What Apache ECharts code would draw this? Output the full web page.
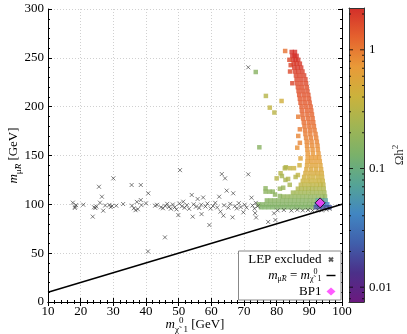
<!DOCTYPE html>
<html>
<head>
<meta charset="utf-8">
<script src="https://cdn.jsdelivr.net/npm/echarts@6/dist/echarts.min.js"></script>
<style>
  html, body { margin: 0; padding: 0; background: #fff; }
  #main { width: 407px; height: 334px; }
</style>
</head>
<body>
<div id="main"></div>
<script>
// LEP excluded points: [m_chi (GeV), m_muR (GeV)]
const lepPoints = [
  [17.6,101.7],[18.3,97.6],[18.6,99.2],[18.2,96.3],[20.8,99.6],[23.7,87.4],[24.1,97],[24.5,96.2],[24.8,97.8],
  [25.6,118],[26.5,107.8],[25.9,101.7],[26.9,93.5],[27.5,98.8],[28.8,99.4],[29.2,97.2],[29.6,98.2],[30,126.6],
  [30.9,98.6],[33,100.3],[35.6,119.8],[35.7,98.6],[36.3,96],[36.8,94],[37.2,102.5],[37.5,95],[38.4,104.4],
  [38.4,119.8],[38.6,99.2],[40,101],[40.7,111.3],[40.6,51.8],[42.8,98.6],[43.4,99.5],[44.6,97],[45.2,96],
  [45.8,66.2],[45.9,98.4],[46.5,100.5],[47,97.3],[47.6,95.5],[48.2,99.8],[48.8,97],[49.3,94.8],[49.9,89],
  [50.4,135],[50.2,100.8],[51,98],[51.4,102.7],[51.8,96.5],[52.5,99.2],[53.2,95.4],[54,109.6],[54.3,87.4],
  [54.6,100],[55.3,97.6],[55.8,105.5],[56.3,96.2],[56.9,99.6],[57,90],[57.5,107],[58.2,97.8],[58.8,100.8],
  [59.4,78.8],[59.8,95.8],[60.5,98.2],[61.2,101.5],[61.8,96.8],[62.4,107.8],[62.8,92.5],[63.2,131],[63.7,88.4],
  [63.9,99],[64.2,126.6],[64.7,114],[65.2,96.6],[65.8,100.5],[66.5,86.7],[66.7,111.3],[67.2,98],[67.8,95.8],
  [68.4,101.2],[69,97.2],[69.8,91.8],[70.2,99.6],[70.8,96.6],[71.3,130.7],[71.3,240.3],[72.3,106.8],[72.6,98.8],
  [73.2,95.6],[73.4,91],[73.7,86.5],[73.6,101.5],[74.2,98],[77.4,82],[79.2,90.8],[79.6,84],[80.3,93.8],
  [82.2,94.2],[84.5,93.6],[86.3,94.4],[88,93.8],[89.6,94.2],[91,93.6],[92.5,94.4],[93.8,93.8],[95.2,94.6],[96.2,95.4]
];

// dense scan region, one row per m_muR: [m_muR, omega h^2, [m_chi values]]
const scanRows = [
  [256, 2.2, [84.6, 85.6]],
  [252, 2.2, [84.8, 85.5, 86.1]],
  [248, 2.1, [85.0, 85.8, 86.6]],
  [244, 2.0, [85.2, 86.1, 87.1]],
  [240, 2.0, [85.4, 86.4, 87.5]],
  [236, 1.9, [85.6, 86.7, 87.9]],
  [232, 1.8, [85.9, 87.1, 88.4]],
  [228, 1.75, [86.1, 87.4, 88.8]],
  [224, 1.7, [86.3, 87.6, 89.0]],
  [220, 1.6, [86.5, 87.8, 89.2]],
  [216, 1.55, [86.7, 88.0, 89.4]],
  [212, 1.5, [86.9, 88.3, 89.7]],
  [208, 1.45, [87.1, 88.5, 89.9]],
  [204, 1.4, [87.3, 88.7, 90.1]],
  [200, 1.35, [87.6, 89.0, 90.4]],
  [196, 1.3, [87.7, 89.2, 90.6]],
  [192, 1.25, [87.9, 89.4, 90.8]],
  [188, 1.2, [88.1, 89.6, 91.0]],
  [184, 1.15, [88.3, 89.8, 91.2]],
  [180, 1.1, [88.5, 90.0, 91.4]],
  [176, 1.05, [88.7, 90.2, 91.6]],
  [172, 1.0, [88.8, 90.3, 91.9]],
  [168, 0.95, [89.0, 90.5, 92.1]],
  [164, 0.9, [89.2, 90.7, 92.3]],
  [160, 0.85, [89.3, 90.9, 92.5]],
  [156, 0.8, [89.4, 91.0, 92.6]],
  [152, 0.75, [89.5, 91.1, 92.8]],
  [148, 0.7, [89.5, 90.7, 91.9, 93.0]],
  [144, 0.65, [89.4, 90.6, 91.9, 93.2]],
  [140, 0.6, [89.3, 90.7, 92.0, 93.4]],
  [136, 0.55, [89.1, 90.6, 92.1, 93.6]],
  [132, 0.5, [88.8, 90.1, 91.4, 92.6, 93.8]],
  [128, 0.45, [88.4, 89.8, 91.2, 92.6, 93.9]],
  [124, 0.4, [88.0, 89.3, 90.5, 91.8, 93.0, 94.1]],
  [120, 0.34, [87.4, 88.6, 89.9, 91.1, 92.3, 93.4, 94.3]],
  [116, 0.28, [86.5, 87.6, 88.7, 89.8, 90.9, 92.0, 93.2, 94.4]],
  [112, 0.23, [85.0, 86.2, 87.4, 88.6, 89.8, 91.0, 92.2, 93.4, 94.6]],
  [108, 0.19, [82.0, 83.2, 84.4, 85.6, 86.8, 88.0, 89.2, 90.4, 91.6, 92.8, 94.0, 94.8]],
  [104, 0.16, [77.0, 78.2, 79.4, 80.6, 81.8, 83.0, 84.2, 85.4, 86.6, 87.8, 89.0, 90.2, 91.4]],
  [104, 0.07, [92.6, 93.8, 95.0]],
  [100, 0.15, [74.5, 75.7, 76.9, 78.1, 79.3, 80.5, 81.7, 82.9, 84.1, 85.3, 86.5, 87.7, 88.9, 90.1, 91.2]],
  [100, 0.04, [92.3, 93.4, 94.5, 95.5]],
  [97, 0.14, [75.2, 76.4, 77.6, 78.8, 80.0, 81.2, 82.4, 83.6, 84.8, 86.0, 87.2, 88.4, 89.6, 90.8]],
  [97, 0.02, [92.0, 93.1, 94.2, 95.3, 96.2]]
];

// isolated scan points: [m_chi, m_muR, omega h^2]
const scanExtra = [
  [73.6,235.5,0.16],[76.7,211,0.3],[77.9,199,0.35],[79.3,194,0.32],[81.5,205.8,0.45],[74.7,158.4,0.16],
  [82.6,257,1.1],[83.9,248,1.7],[84.3,242.5,1.8],[84.1,236,1.7],[84.8,224,1.8],
  [86.6,189.7,1.0],[87.1,176.8,1.0],[86.6,170,0.9],[87.1,163,0.9],[86.3,158,0.8],[87.3,147,0.6],
  [80,126.6,0.3],[81.2,131.8,0.3],[82.5,136.9,0.3],[84,137,0.35],[85.3,137,0.4],[82.7,125,0.25],
  [84,120,0.25],[83.5,126,0.28],[76.6,116.4,0.17],[76.6,113,0.17],[77.8,113,0.17],[78.8,113,0.17],
  [81,116,0.2],[82,117,0.2],[86.5,130,0.35],[87,140,0.45],[85.8,128,0.3],[79.5,110,0.17],[81,108.5,0.17],
  [82.8,138,0.28],[81.6,129,0.25]
];

const bp1 = [[93.3, 101.5]];
const diagLine = [[10, 10], [100, 100]];

const omegaRange = [0.0075, 2.25];
const omegaMajor = [0.01, 0.1, 1];
const omegaMinor = [0.008, 0.009, 0.02, 0.03, 0.04, 0.05, 0.06, 0.07, 0.08, 0.09,
  0.2, 0.3, 0.4, 0.5, 0.6, 0.7, 0.8, 0.9, 2];
const cmapColors = ['#6b1a7f', '#4b3089', '#405fab', '#4186c2', '#55a495', '#7ab16a',
  '#a1b553', '#cbb23c', '#e99a38', '#e5622e', '#d32f2a'];

const FONT = 'Liberation Serif';

const scanData = [];
scanRows.forEach(r => r[2].forEach(x => scanData.push([x, r[0], Math.log10(r[1])])));
scanExtra.forEach(p => scanData.push([p[0], p[1], Math.log10(p[2])]));

const tickData = [];
omegaMinor.forEach(v => { tickData.push([0, v, 2]); tickData.push([1, v, 2]); });
omegaMajor.forEach(v => { tickData.push([0, v, 4]); tickData.push([1, v, 4]); });

const rich = {
  i: { fontFamily: FONT, fontStyle: 'italic', fontSize: 13, lineHeight: 18 },
  n: { fontFamily: FONT, fontSize: 13, lineHeight: 18 },
  s: { fontFamily: FONT, fontSize: 9, lineHeight: 9, verticalAlign: 'bottom' },
  si: { fontFamily: FONT, fontSize: 9, lineHeight: 9, fontStyle: 'italic', verticalAlign: 'bottom' },
  sup: { fontFamily: FONT, fontSize: 9, lineHeight: 9, verticalAlign: 'top' }
};
const legendRich = {
  i: { fontFamily: FONT, fontStyle: 'italic', fontSize: 13, lineHeight: 15 },
  n: { fontFamily: FONT, fontSize: 13, lineHeight: 15 },
  s: { fontFamily: FONT, fontSize: 8, lineHeight: 8, verticalAlign: 'bottom' },
  si: { fontFamily: FONT, fontSize: 8, lineHeight: 8, fontStyle: 'italic', verticalAlign: 'bottom' },
  sup: { fontFamily: FONT, fontSize: 8, lineHeight: 8, verticalAlign: 'top' }
};

const frameAxis = {
  axisLine: { lineStyle: { color: '#000', width: 1 } },
  axisTick: { inside: true, length: 4, lineStyle: { color: '#000' } },
  minorTick: { show: true, splitNumber: 5, length: 2, lineStyle: { color: '#000' } },
  axisLabel: { color: '#000', fontFamily: FONT, fontSize: 13 }
};
const barEdge = { show: true, onZero: false, lineStyle: { color: '#333', width: 1 } };

const chart = echarts.init(document.getElementById('main'));
chart.setOption({
  animation: false,
  grid: [
    { left: 48, top: 9, width: 294, height: 293, outerBoundsMode: 'none', containLabel: false },
    { left: 349, top: 8, width: 15, height: 294, outerBoundsMode: 'none', containLabel: false }
  ],
  xAxis: [
    Object.assign({}, frameAxis, {
      type: 'value', gridIndex: 0, min: 10, max: 100, interval: 10, position: 'bottom',
      axisLabel: Object.assign({}, frameAxis.axisLabel, { margin: 3 }),
      splitLine: { show: true, lineStyle: { color: '#d0d0d0', type: [1, 2], width: 1 } },
      name: '{i|m}{s|χ̃}{sup|0}{s|1}{n| [GeV]}',
      nameLocation: 'middle', nameGap: 14, nameMoveOverlap: false,
      nameTextStyle: { rich: rich }
    }),
    Object.assign({}, frameAxis, {
      type: 'value', gridIndex: 0, min: 10, max: 100, interval: 10, position: 'top',
      axisLabel: { show: false }, splitLine: { show: false }
    }),
    { type: 'value', gridIndex: 1, min: 0, max: 1, position: 'bottom', z: 10,
      axisLine: barEdge, axisTick: { show: false }, axisLabel: { show: false }, splitLine: { show: false } },
    { type: 'value', gridIndex: 1, min: 0, max: 1, position: 'top', z: 10,
      axisLine: barEdge, axisTick: { show: false }, axisLabel: { show: false }, splitLine: { show: false } }
  ],
  yAxis: [
    Object.assign({}, frameAxis, {
      type: 'value', gridIndex: 0, min: 0, max: 300, interval: 50, position: 'left',
      axisLabel: Object.assign({}, frameAxis.axisLabel, { margin: 4 }),
      splitLine: { show: true, lineStyle: { color: '#d0d0d0', type: [1, 2], width: 1 } },
      name: '{i|m}{s|μ̃}{si|R}{n| [GeV]}',
      nameLocation: 'middle', nameGap: 25, nameRotate: 90, nameMoveOverlap: false,
      nameTextStyle: { rich: rich }
    }),
    Object.assign({}, frameAxis, {
      type: 'value', gridIndex: 0, min: 0, max: 300, interval: 50, position: 'right',
      axisLabel: { show: false }, splitLine: { show: false }
    }),
    {
      type: 'log', gridIndex: 1, min: omegaRange[0], max: omegaRange[1], logBase: 10,
      position: 'right', z: 10,
      axisLine: barEdge,
      axisTick: { show: false },
      splitLine: { show: false },
      axisLabel: {
        color: '#000', fontFamily: FONT, fontSize: 13, margin: 5,
        formatter: v => {
          const hit = omegaMajor.find(m => Math.abs(v - m) / m < 1e-6);
          return hit === undefined ? '' : String(hit);
        }
      },
      name: '{n|Ωh}{sup|2}', nameLocation: 'middle', nameGap: 27, nameRotate: 90, nameMoveOverlap: false,
      nameTextStyle: { rich: rich }
    },
    {
      type: 'log', gridIndex: 1, min: omegaRange[0], max: omegaRange[1], logBase: 10,
      position: 'left', z: 10,
      axisLine: barEdge,
      axisTick: { show: false }, axisLabel: { show: false }, splitLine: { show: false }
    }
  ],
  visualMap: {
    type: 'continuous',
    show: false,
    seriesIndex: 0,
    dimension: 2,
    min: Math.log10(omegaRange[0]),
    max: Math.log10(omegaRange[1]),
    inRange: { color: cmapColors }
  },
  legend: {
    data: [
      { name: 'LEP excluded', icon: 'path://M0,0M10,10M2.5,2.5L7.5,7.5M7.5,2.5L2.5,7.5' },
      { name: 'diag', icon: 'path://M0,0h10v1.6h-10z', itemStyle: { color: '#000' } },
      { name: 'BP1', itemStyle: { borderWidth: 0 } }
    ],
    orient: 'vertical',
    align: 'right',
    right: 66, top: 251,
    padding: [1, 5, 1, 5],
    itemGap: 1,
    itemWidth: 9, itemHeight: 8,
    borderColor: '#888', borderWidth: 1, borderRadius: 0,
    backgroundColor: '#fff',
    textStyle: { fontFamily: FONT, fontSize: 13, lineHeight: 15, color: '#000', width: 78, align: 'right', rich: legendRich },
    formatter: name => name === 'diag' ? '{i|m}{s|μ̃}{si|R}{n| = }{i|m}{s|χ̃}{sup|0}{s|1}' : name
  },
  series: [
    {
      type: 'scatter', name: 'scan', xAxisIndex: 0, yAxisIndex: 0,
      symbol: 'rect', symbolSize: 4.5, z: 2,
      data: scanData
    },
    {
      type: 'scatter', name: 'LEP excluded', xAxisIndex: 0, yAxisIndex: 0,
      symbol: 'path://M0,0L10,10M10,0L0,10', symbolSize: 4, z: 3,
      itemStyle: { color: 'rgba(0,0,0,0)', borderColor: '#333', borderWidth: 0.8 },
      data: lepPoints
    },
    {
      type: 'line', name: 'diag', xAxisIndex: 0, yAxisIndex: 0,
      symbol: 'none', showSymbol: false, z: 4,
      itemStyle: { color: '#000' },
      lineStyle: { color: '#000', width: 1.5 },
      data: diagLine
    },
    {
      type: 'scatter', name: 'BP1', xAxisIndex: 0, yAxisIndex: 0,
      symbol: 'diamond', symbolSize: 10, z: 5,
      itemStyle: { color: '#ff33ff', borderColor: '#000', borderWidth: 1 },
      data: bp1
    },
    {
      // colour bar drawn on the log omega axis
      type: 'custom', name: 'colorbar', xAxisIndex: 2, yAxisIndex: 2, z: 1, silent: true,
      data: [[0, omegaRange[0], 1, omegaRange[1]]],
      encode: { x: [0, 2], y: [1, 3] },
      renderItem: (params, api) => {
        const p0 = api.coord([api.value(0), api.value(1)]);
        const p1 = api.coord([api.value(2), api.value(3)]);
        const stops = cmapColors.map((c, i) => ({ offset: i / (cmapColors.length - 1), color: c }));
        return {
          type: 'rect',
          shape: { x: p0[0], y: p1[1], width: p1[0] - p0[0], height: p0[1] - p1[1] },
          style: { fill: new echarts.graphic.LinearGradient(0, 1, 0, 0, stops) }
        };
      }
    },
    {
      type: 'scatter', name: 'ticks', xAxisIndex: 2, yAxisIndex: 2,
      symbol: 'rect', z: 10, silent: true,
      symbolSize: v => [v[2], 1],
      itemStyle: { color: '#000' },
      data: tickData.map(d => ({ value: d, symbolOffset: [d[0] === 0 ? d[2] / 2 : -d[2] / 2, 0] }))
    }
  ]
});
</script>
</body>
</html>
